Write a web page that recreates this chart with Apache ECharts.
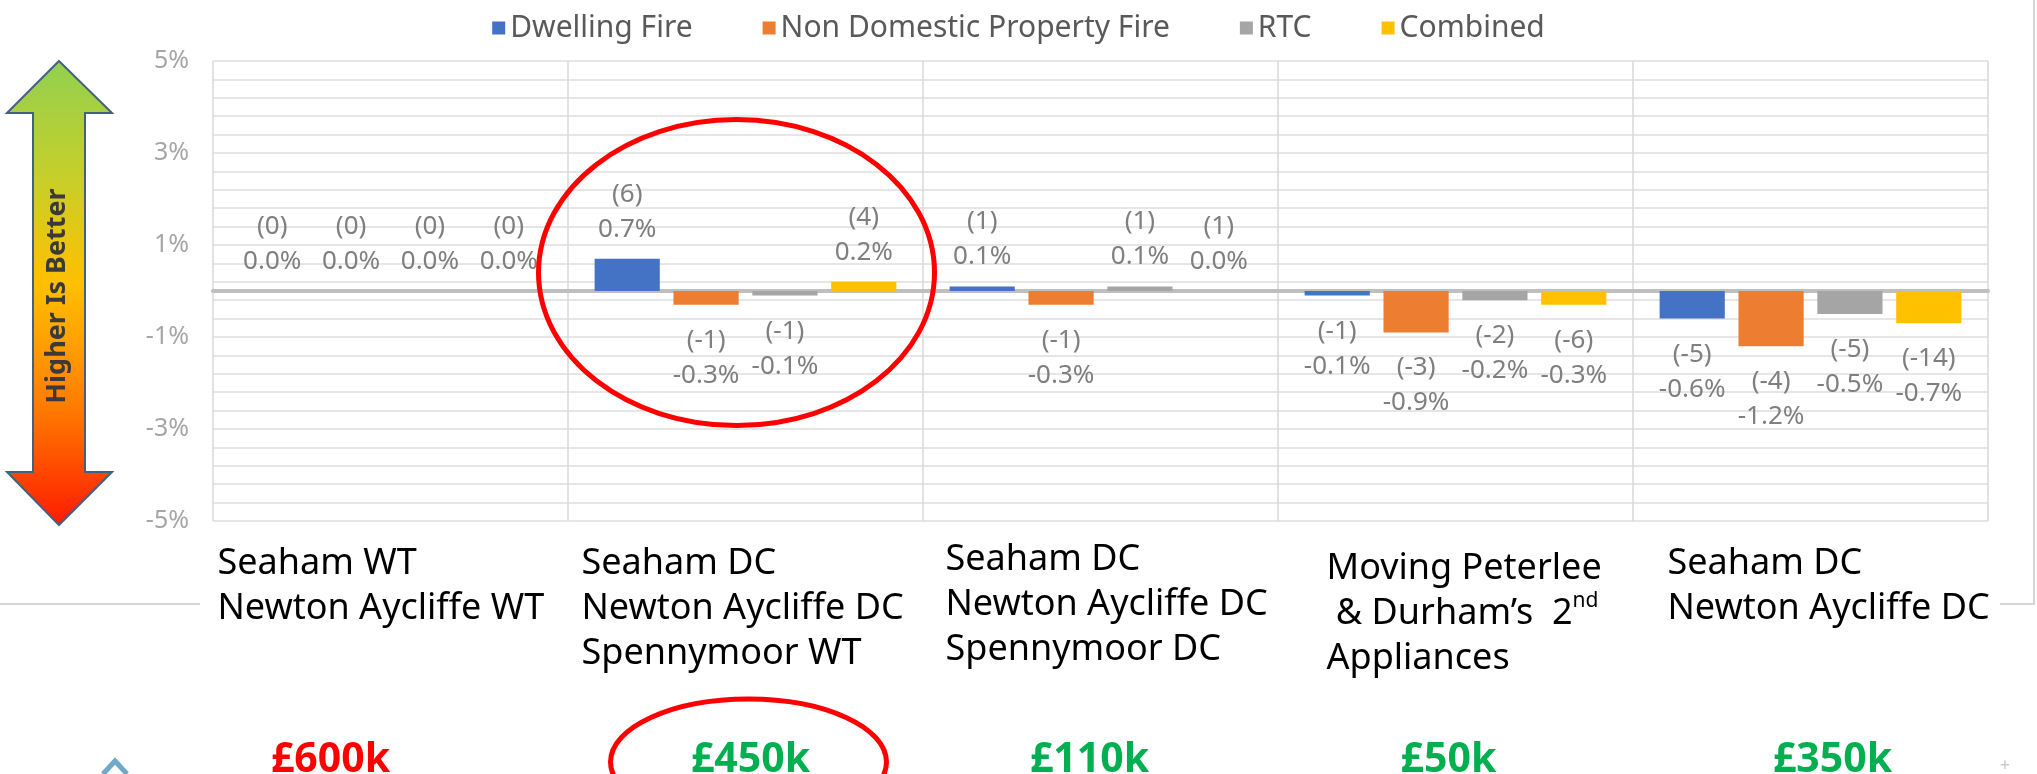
<!DOCTYPE html>
<html>
<head>
<meta charset="utf-8">
<script src="https://cdn.jsdelivr.net/npm/echarts@6/dist/echarts.min.js"></script>
<style>
    html, body { margin: 0; padding: 0; background: #fff; }
    #chart { width: 2037px; height: 774px; }
</style>
</head>
<body>
<div id="chart"></div>
<script>
    // options compared (x axis groups)
    var categories = [
        'Seaham WT\nNewton Aycliffe WT',
        'Seaham DC\nNewton Aycliffe DC\nSpennymoor WT',
        'Seaham DC\nNewton Aycliffe DC\nSpennymoor DC',
        'Moving Peterlee\n & Durham’s  2nd\nAppliances',
        'Seaham DC\nNewton Aycliffe DC'
    ];
    var seriesNames = ['Dwelling Fire', 'Non Domestic Property Fire', 'RTC', 'Combined'];

    // % change in response, per option
    var dwellingPct    = [0.0,  0.7,  0.1, -0.1, -0.6];
    var nonDomesticPct = [0.0, -0.3, -0.3, -0.9, -1.2];
    var rtcPct         = [0.0, -0.1,  0.1, -0.2, -0.5];
    var combinedPct    = [0.0,  0.2,  0.0, -0.3, -0.7];

    // incident counts shown in brackets
    var dwellingCount    = [0,  6,  1, -1,  -5];
    var nonDomesticCount = [0, -1, -1, -3,  -4];
    var rtcCount         = [0, -1,  1, -2,  -5];
    var combinedCount    = [0,  4,  1, -6, -14];

    // saving for each option
    var savings = ['£600k', '£450k', '£110k', '£50k', '£350k'];
    var savingColors = ['#ff0000', '#00b050', '#00b050', '#00b050', '#00b050'];

    // y axis ticks
    var yMin = -5, yMax = 5, yStep = 2;

    var pcts = [dwellingPct, nonDomesticPct, rtcPct, combinedPct];
    var counts = [dwellingCount, nonDomesticCount, rtcCount, combinedCount];
    var colors = ['#4472c4', '#ed7d31', '#a5a5a5', '#ffc000'];
    var FONT = 'Noto Sans';

    var chart = echarts.init(document.getElementById('chart'));

    var series = seriesNames.map(function (name, s) {
        return {
            name: name,
            type: 'bar',
            // zero and up get the label above, falls get it below
            data: pcts[s].map(function (v) {
                return {
                    value: v,
                    label: v >= 0 ? { position: 'top', distance: 12 } : { position: 'bottom', distance: 18 }
                };
            }),
            barGap: '21%',
            barCategoryGap: '15%',
            itemStyle: { color: colors[s] },
            label: {
                show: true,
                color: '#7f7f7f',
                fontSize: 26,
                lineHeight: 35,
                fontFamily: FONT,
                formatter: function (p) {
                    return '(' + counts[s][p.dataIndex] + ')\n' + p.value.toFixed(1) + '%';
                }
            }
        };
    });

    var option = {
        animation: false,
        legend: {
            top: 8,
            left: 'center',
            itemGap: 70,
            itemWidth: 13,
            itemHeight: 13,
            icon: 'rect',
            textStyle: { fontSize: 30, color: '#595959', fontFamily: FONT }
        },
        grid: { left: 213, right: 49, top: 61, bottom: 253 },
        xAxis: {
            type: 'category',
            data: categories,
            axisLabel: { show: false },
            axisTick: { show: false },
            axisLine: { onZero: true, lineStyle: { color: '#bfbfbf', width: 4 } },
            splitLine: { show: true, lineStyle: { color: '#d9d9d9', width: 1.5 } }
        },
        yAxis: {
            type: 'value',
            min: yMin,
            max: yMax,
            interval: yStep,
            axisLabel: {
                color: '#a6a6a6',
                fontSize: 25,
                margin: 24,
                fontFamily: FONT,
                formatter: function (v) { return v + '%'; }
            },
            axisLine: { show: false },
            axisTick: { show: false },
            splitLine: { lineStyle: { color: '#e6e6e6', width: 2 } },
            minorTick: { show: false, splitNumber: 5 },
            minorSplitLine: { show: true, lineStyle: { color: '#e6e6e6', width: 2 } }
        },
        series: series
    };
    chart.setOption(option);

    // text boxes under the chart, placed from the category axis
    var labelDx = [-173, -164, -155, -129, -143];
    var labelDy = [0, 0, -4, 5, 0];
    var savingDx = [-60, 5, -11, -7, 22];
    var g = [];

    // frame of the chart box on the slide
    g.push({ type: 'polyline', shape: { points: [[0, 604], [200, 604]] }, style: { stroke: '#d6d6d6', lineWidth: 2 } });
    g.push({ type: 'polyline', shape: { points: [[2000, 604], [2034, 604], [2034, 0]] }, style: { stroke: '#d6d6d6', lineWidth: 2, fill: 'none' } });

    categories.forEach(function (c, i) {
        var cx = chart.convertToPixel({ xAxisIndex: 0 }, i);
        var txt = c.replace('2nd', '2{sup|nd}').split('\n').map(function (l) {
            return l.indexOf('{sup|') >= 0 ? '{t|' + l.replace('{sup|nd}', '}{sup|nd}') : '{t|' + l + '}';
        }).join('\n');
        g.push({
            type: 'text',
            x: cx + labelDx[i],
            y: 541 + labelDy[i],
            style: {
                text: txt,
                textAlign: 'left',
                textVerticalAlign: 'top',
                rich: {
                    t: { fontSize: 36, lineHeight: 45, fontFamily: FONT, fill: '#000' },
                    sup: { fontSize: 21, lineHeight: 45, fontFamily: FONT, fill: '#000', verticalAlign: 'top', padding: [0, 0, 0, 0] }
                }
            }
        });
        g.push({
            type: 'text',
            x: cx + savingDx[i],
            y: 760,
            style: {
                text: savings[i],
                textAlign: 'center',
                textVerticalAlign: 'middle',
                fontSize: 41,
                fontWeight: 'bold',
                fontFamily: FONT,
                fill: savingColors[i]
            }
        });
    });

    // red highlight rings around the chosen option
    var ring = chart.convertToPixel({ xAxisIndex: 0, yAxisIndex: 0 }, [1, 0.4]);
    g.push({ type: 'ellipse', shape: { cx: ring[0] - 9, cy: ring[1], rx: 198, ry: 153 }, style: { fill: 'none', stroke: '#ff0000', lineWidth: 5 }, z: 10 });
    var cx2 = chart.convertToPixel({ xAxisIndex: 0 }, 1);
    g.push({ type: 'ellipse', shape: { cx: cx2 + 3, cy: 762, rx: 138, ry: 63 }, style: { fill: 'none', stroke: '#ff0000', lineWidth: 5 }, z: 10 });

    // "Higher Is Better" arrow
    g.push({
        type: 'polygon',
        shape: {
            points: [[59, 61], [112, 113], [85, 113], [85, 472], [112, 472], [59, 525],
                     [7, 472], [33, 472], [33, 113], [7, 113]]
        },
        style: {
            fill: {
                type: 'linear', x: 0, y: 0, x2: 0, y2: 1,
                colorStops: [
                    { offset: 0, color: '#92d050' },
                    { offset: 0.25, color: '#c6cf2a' },
                    { offset: 0.48, color: '#ffc000' },
                    { offset: 0.75, color: '#ff7a00' },
                    { offset: 1, color: '#ff1a00' }
                ]
            },
            stroke: '#44607f',
            lineWidth: 2
        }
    });
    g.push({
        type: 'text',
        x: 57,
        y: 296,
        rotation: Math.PI / 2,
        style: {
            text: 'Higher Is Better',
            textAlign: 'center',
            textVerticalAlign: 'middle',
            fontSize: 27,
            fontWeight: 'bold',
            fontFamily: FONT,
            fill: '#3a3a3a'
        }
    });
    // bits of other slide shapes cut off at the bottom
    g.push({ type: 'polyline', shape: { points: [[103, 774], [115, 761], [127, 774]] }, style: { stroke: '#6fa8c8', lineWidth: 5, fill: 'none' } });
    g.push({ type: 'text', x: 2005, y: 766, style: { text: '+', fontSize: 18, fill: '#c8c8c8', textAlign: 'center', textVerticalAlign: 'middle', fontFamily: FONT } });

    chart.setOption({ graphic: g });
</script>
</body>
</html>
